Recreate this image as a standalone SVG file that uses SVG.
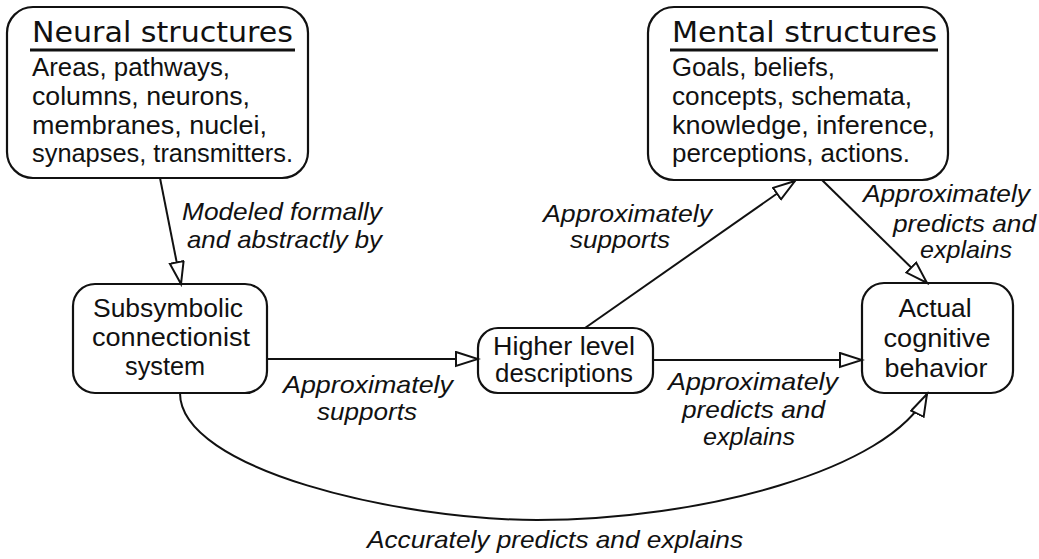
<svg xmlns="http://www.w3.org/2000/svg" width="1039" height="559" viewBox="0 0 1039 559">
<style>
.box{fill:#fff;stroke:#111;stroke-width:2.2}
.t{font-family:"Liberation Sans",Arial,sans-serif;font-size:25px;fill:#111}
.title{font-family:"DejaVu Sans","Liberation Sans",sans-serif;font-size:28px;fill:#111}
.lab{font-family:"Liberation Sans",Arial,sans-serif;font-size:24px;font-style:italic;fill:#111}
.c{text-anchor:middle}
.ul{stroke:#111;stroke-width:3}
.edge{fill:none;stroke:#111;stroke-width:2;marker-end:url(#arr)}
</style>
<defs>
<marker id="arr" markerUnits="userSpaceOnUse" markerWidth="26" markerHeight="18" refX="23" refY="8" orient="auto">
<path d="M1,1 L23,8 L1,15 z" fill="#fff" stroke="#111" stroke-width="2"/>
</marker>
</defs>
<g id="neural">
<rect class="box" x="7" y="7" width="301" height="171" rx="26"/>
<text class="title" x="32" y="42" textLength="261" lengthAdjust="spacingAndGlyphs">Neural structures</text>
<line class="ul" x1="30" y1="50" x2="295" y2="50"/>
<text class="t" x="32" y="76" textLength="198" lengthAdjust="spacingAndGlyphs">Areas, pathways,</text>
<text class="t" x="32" y="105" textLength="218" lengthAdjust="spacingAndGlyphs">columns, neurons,</text>
<text class="t" x="32" y="134" textLength="235" lengthAdjust="spacingAndGlyphs">membranes, nuclei,</text>
<text class="t" x="32" y="162" textLength="261" lengthAdjust="spacingAndGlyphs">synapses, transmitters.</text>
</g>
<g id="mental">
<rect class="box" x="648" y="7" width="300" height="173" rx="26"/>
<text class="title" x="672" y="42" textLength="265" lengthAdjust="spacingAndGlyphs">Mental structures</text>
<line class="ul" x1="670" y1="50" x2="938" y2="50"/>
<text class="t" x="672" y="76" textLength="163" lengthAdjust="spacingAndGlyphs">Goals, beliefs,</text>
<text class="t" x="672" y="105" textLength="240" lengthAdjust="spacingAndGlyphs">concepts, schemata,</text>
<text class="t" x="672" y="134" textLength="263" lengthAdjust="spacingAndGlyphs">knowledge, inference,</text>
<text class="t" x="672" y="162" textLength="238" lengthAdjust="spacingAndGlyphs">perceptions, actions.</text>
</g>
<g id="subsymbolic">
<rect class="box" x="73" y="284" width="194" height="109" rx="22"/>
<text class="t c" x="168" y="317" textLength="150" lengthAdjust="spacingAndGlyphs">Subsymbolic</text>
<text class="t c" x="171" y="346" textLength="158" lengthAdjust="spacingAndGlyphs">connectionist</text>
<text class="t c" x="165" y="375" textLength="80" lengthAdjust="spacingAndGlyphs">system</text>
</g>
<g id="higher">
<rect class="box" x="478" y="328" width="175" height="65" rx="20"/>
<text class="t c" x="564" y="355" textLength="142" lengthAdjust="spacingAndGlyphs">Higher level</text>
<text class="t c" x="564" y="382" textLength="138" lengthAdjust="spacingAndGlyphs">descriptions</text>
</g>
<g id="actual">
<rect class="box" x="862" y="283" width="151" height="110" rx="22"/>
<text class="t c" x="935" y="317" textLength="73" lengthAdjust="spacingAndGlyphs">Actual</text>
<text class="t c" x="937" y="347" textLength="107" lengthAdjust="spacingAndGlyphs">cognitive</text>
<text class="t c" x="936" y="377" textLength="103" lengthAdjust="spacingAndGlyphs">behavior</text>
</g>
<g id="connectors">
<line class="edge" x1="160" y1="178" x2="181" y2="284"/>
<line class="edge" x1="267" y1="359" x2="478" y2="359"/>
<line class="edge" x1="585" y1="328" x2="795" y2="181"/>
<line class="edge" x1="653" y1="360" x2="862" y2="360"/>
<line class="edge" x1="822" y1="180" x2="927" y2="283"/>
<path class="edge" d="M180,393 C180,470 400,520 537,520 C700,520 890,470 927,394"/>
</g>
<g id="labels">
<text class="lab" x="182" y="220" textLength="200" lengthAdjust="spacingAndGlyphs">Modeled formally</text>
<text class="lab" x="187" y="248" textLength="195" lengthAdjust="spacingAndGlyphs">and abstractly by</text>
<text class="lab" x="283" y="393" textLength="170" lengthAdjust="spacingAndGlyphs">Approximately</text>
<text class="lab" x="317" y="420" textLength="100" lengthAdjust="spacingAndGlyphs">supports</text>
<text class="lab" x="543" y="222" textLength="169" lengthAdjust="spacingAndGlyphs">Approximately</text>
<text class="lab" x="570" y="248" textLength="100" lengthAdjust="spacingAndGlyphs">supports</text>
<text class="lab" x="668" y="390" textLength="170" lengthAdjust="spacingAndGlyphs">Approximately</text>
<text class="lab" x="682" y="418" textLength="143" lengthAdjust="spacingAndGlyphs">predicts and</text>
<text class="lab" x="703" y="445" textLength="92" lengthAdjust="spacingAndGlyphs">explains</text>
<text class="lab" x="863" y="202" textLength="167" lengthAdjust="spacingAndGlyphs">Approximately</text>
<text class="lab" x="893" y="232" textLength="143" lengthAdjust="spacingAndGlyphs">predicts and</text>
<text class="lab" x="920" y="258" textLength="92" lengthAdjust="spacingAndGlyphs">explains</text>
<text class="lab" x="367" y="548" textLength="376" lengthAdjust="spacingAndGlyphs">Accurately predicts and explains</text>
</g>
</svg>
